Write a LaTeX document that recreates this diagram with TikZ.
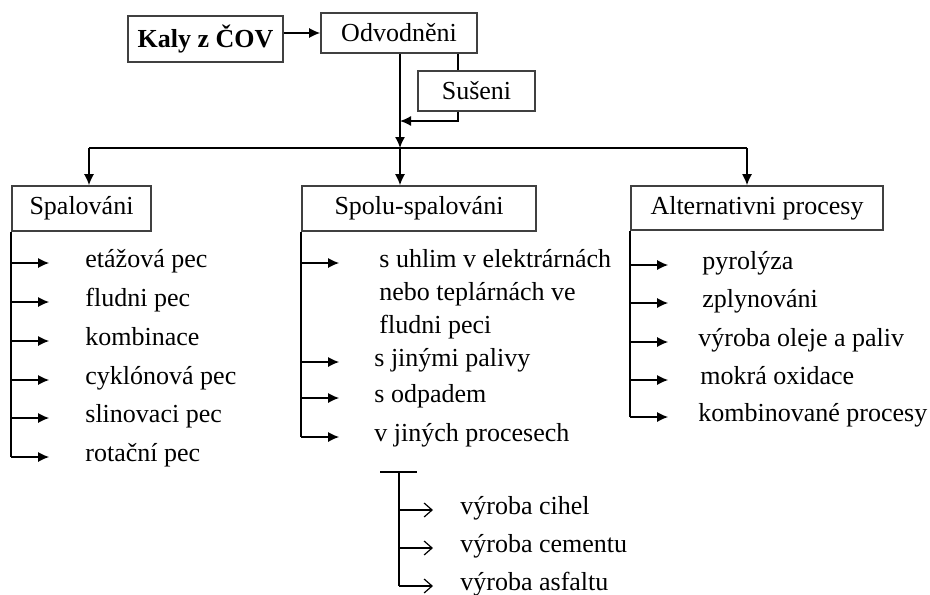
\documentclass[tikz,border=0pt]{standalone}
\usepackage{fontspec}
\setmainfont{Liberation Serif}
\usetikzlibrary{arrows.meta,positioning}

\begin{document}
\begin{tikzpicture}[x=0.5pt, y=-0.5pt,
        every node/.style={font=\fontsize{13}{16.5}\selectfont},
        box/.style={draw=black!75, line width=0.8pt, rectangle, inner sep=0pt, minimum height=22.5pt},
        item/.style={anchor=mid west, inner sep=0pt},
        line/.style={line width=0.75pt},
        arr/.style={line width=0.75pt, -{Latex[length=5.5pt,width=5pt]}},
        oarr/.style={line width=0.6pt, -{Straight Barb[length=4pt,width=7pt]}}]
    \useasboundingbox (0,0) rectangle (930,594);

    % Boxes
    \node[box, font=\fontsize{13}{16.5}\selectfont\bfseries, minimum width=77.5pt, minimum height=23pt] (kaly) at (205.5,39) {Kaly z ČOV};
    \node[box, minimum width=78pt, minimum height=20pt] (odv) at (399,33) {Odvodněni};
    \node[box, minimum width=58.5pt, minimum height=20pt] (suseni) at (476.5,91) {Sušeni};
    \node[box, minimum width=69.5pt] (spal) at (81.5,208.5) {Spalováni};
    \node[box, minimum width=117pt] (spolu) at (419,208.5) {Spolu-spalováni};
    \node[box, minimum width=126pt, minimum height=22pt] (alt) at (757,208) {Alternativni procesy};

    % Flow at the top
    \coordinate (sdrop) at (458,0);
    \coordinate (merge) at (400,121);
    \coordinate (split) at (400,148);
    \coordinate (d1) at (89,148);
    \coordinate (d3) at (747,148);
    \draw[arr] (kaly.east |- odv) -- (odv.west);
    \draw[line] (odv.south -| sdrop) -- (suseni.north -| sdrop);
    \draw[arr] (suseni.south -| sdrop) |- (merge);
    \draw[arr] (odv.south -| split) -- (split);
    \draw[line] (d1) -- (d3);
    \draw[arr] (d1) -- (d1 |- spal.north);
    \draw[arr] (split) -- (split |- spolu.north);
    \draw[arr] (d3) -- (d3 |- alt.north);

    % Spalovani
    \foreach \n/\y/\t in {1/263/etážová pec, 2/302/fludni pec, 3/341/kombinace,
            4/380/cyklónová pec, 5/418/slinovaci pec, 6/457/rotační pec} {
        \node[item] (spal\n) at (85,\y) {\t};
        \draw[arr] (spal.west |- spal\n.mid west) -- ++(38,0);
    }
    \draw[line] (spal.south west) -- (spal.west |- spal6.mid west);

    % Spolu-spalovani
    \node[item] (spolu1) at (379,263) {\vtop{\hbox{s uhlim v elektrárnách}\hbox{nebo teplárnách ve}\hbox{fludni peci}}};
    \foreach \n/\y/\t in {2/362/s jinými palivy, 3/398/s odpadem, 4/437/v jiných procesech}
        \node[item] (spolu\n) at (374,\y) {\t};
    \foreach \n in {1,...,4}
        \draw[arr] (spolu.west |- spolu\n.mid west) -- ++(38,0);
    \draw[line] (spolu.south west) -- (spolu.west |- spolu4.mid west);

    % Alternativni procesy
    \foreach \n/\y/\x/\t in {1/265/702/pyrolýza, 2/303/702/zplynováni, 3/342/698/výroba oleje a paliv,
            4/380/700/mokrá oxidace, 5/417/698/kombinované procesy} {
        \node[item] (alt\n) at (\x,\y) {\t};
        \draw[arr] (alt.west |- alt\n.mid west) -- ++(38,0);
    }
    \draw[line] (alt.south west) -- (alt.west |- alt5.mid west);

    % v jinych procesech
    \coordinate (tleft) at (380,472);
    \coordinate (tright) at (417,472);
    \coordinate (tstem) at (399,472);
    \draw[line] (tleft) -- (tright);
    \foreach \n/\y/\t in {1/510/výroba cihel, 2/548/výroba cementu, 3/586/výroba asfaltu} {
        \node[item] (sub\n) at (460,\y) {\t};
        \draw[oarr] (tstem |- sub\n.mid west) -- ++(34,0);
    }
    \draw[line] (tstem) -- (tstem |- sub3.mid west);
\end{tikzpicture}
\end{document}
